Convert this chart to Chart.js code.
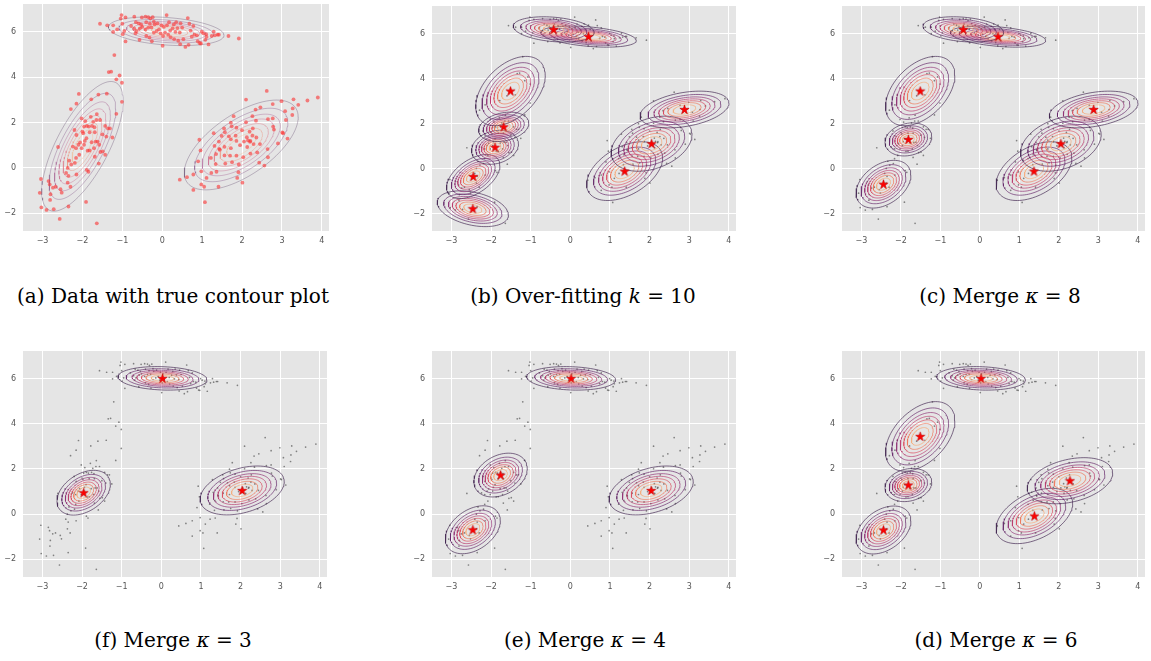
<!DOCTYPE html>
<html>
<head>
<meta charset="utf-8">
<script src="https://cdn.jsdelivr.net/npm/chart.js@4/dist/chart.umd.min.js"></script>
<style>
  html, body { margin: 0; padding: 0; background: #ffffff; }
  #fig { position: relative; width: 1151px; height: 661px; overflow: hidden; }
  canvas { position: absolute; }
  .cap { position: absolute; transform: translateX(-50%); white-space: nowrap;
         font-family: "DejaVu Serif", "Liberation Serif", serif; font-size: 20px; color: #000; line-height: 24px; }
  .cap i { font-family: "DejaVu Serif", serif; }
</style>
</head>
<body>
<div id="fig"></div>
<script>
// ---- axis ticks ----
const xTicks = [-3, -2, -1, 0, 1, 2, 3, 4];
const yTicks = [-2, 0, 2, 4, 6];

// ---- observed samples (x, y) ----
const upperCluster = [
  [-1.56,6.35],[-1.38,6.28],[-1.23,6.28],[-1.04,6.58],[-1.02,6.73],[-0.92,6.63],[-1.00,6.35],[-0.95,6.03],[-0.99,5.89],[-0.92,5.57],
  [-0.70,6.66],[-0.66,6.42],[-0.70,6.13],[-0.64,6.03],[-0.59,6.37],[-0.56,6.15],[-0.67,5.93],[-0.57,5.64],[-0.51,6.63],[-0.42,6.66],
  [-0.40,6.42],[-0.35,6.64],[-0.30,6.58],[-0.24,6.64],[-0.21,6.44],[-0.31,6.35],[-0.35,6.18],[-0.42,6.10],[-0.50,6.21],[-0.40,5.81],
  [-0.32,5.74],[-0.26,5.58],[-0.21,5.96],[-0.14,6.03],[-0.19,6.32],[-0.12,6.37],[-0.08,6.10],[-0.04,5.93],[0.02,5.81],[0.07,5.96],
  [0.11,6.73],[0.12,6.28],[0.04,6.21],[0.01,5.38],[0.15,5.87],[0.20,6.05],[0.21,5.76],[0.26,6.15],[0.29,6.32],[0.33,5.99],
  [0.35,6.42],[0.38,6.16],[0.44,5.96],[0.46,6.37],[0.45,5.45],[0.50,6.18],[0.53,5.67],[0.58,5.33],[0.64,6.60],[0.66,5.42],
  [0.71,6.05],[0.74,5.78],[0.81,5.87],[0.87,5.84],[0.94,5.49],[0.97,5.48],[1.03,5.93],[1.08,5.64],[1.11,5.77],[1.16,5.44],
  [1.24,5.81],[1.29,6.00],[1.32,5.84],[1.39,5.87],[1.42,5.87],[1.66,5.81],[1.92,5.70],
  [-1.23,5.99],[-1.13,6.10],[-0.78,6.25],[-0.53,6.32],[-0.27,6.19],[-0.02,6.28],[0.17,6.42],[0.30,5.67],[0.40,5.60],
  [0.68,6.35],[0.78,6.25],[0.99,6.00],[1.10,5.89],[0.89,5.58]
];
const bridgePoints = [
  [-1.20,4.97],[-1.34,4.22],[-1.28,4.24],[-1.07,4.07],[-1.15,3.90],[-1.01,3.75],[-1.01,2.91],[-1.15,2.38],[-1.39,3.27]
];
const leftCluster = [
  [-1.60,3.23],[-2.09,3.26],[-2.15,2.83],[-1.78,3.02],[-2.29,2.59],[-1.79,2.25],[-1.64,2.37],[-1.56,2.11],[-1.84,1.82],[-1.89,1.85],
  [-1.76,1.85],[-1.70,1.79],[-1.96,1.82],[-1.65,2.11],[-1.43,1.85],[-1.31,1.74],[-1.36,1.74],[-2.20,1.67],[-2.00,1.60],[-2.15,1.45],
  [-1.50,1.48],[-1.40,1.38],[-1.25,1.34],[-1.69,1.57],[-1.82,1.57],[-1.90,1.31],[-1.94,1.19],[-1.77,1.13],[-1.62,1.16],[-2.06,1.12],
  [-2.10,1.02],[-2.16,0.87],[-2.24,0.94],[-2.02,0.87],[-1.96,1.02],[-1.87,0.76],[-1.71,0.87],[-1.55,0.70],[-1.49,0.73],[-1.43,0.58],
  [-1.69,0.49],[-2.16,0.44],[-2.33,0.32],[-2.28,0.15],[-2.19,0.22],[-2.37,0.00],[-2.41,-0.22],[-2.35,-0.35],[-2.15,-0.29],[-1.89,-0.09],
  [-1.85,-0.17],[-1.59,0.19],[-2.61,0.92],[-2.37,-0.65],[-2.30,-0.83],[-2.55,-0.94],[-2.52,-1.09],[-2.67,-0.83],[-2.74,-0.87],[-2.85,-0.58],
  [-2.82,-0.73],[-3.04,-0.49],[-3.07,-1.10],[-2.80,-1.16],[-2.81,-1.41],[-3.03,-1.74],[-2.90,-1.85],[-2.72,-1.82],[-2.35,-1.70],[-1.91,-1.50],
  [-2.57,-2.25],[-1.64,-2.44],[-1.67,1.16],[-1.98,1.53],[-1.82,0.77],[-2.08,0.58],[-1.58,1.02],[-1.73,2.03],[-2.02,2.18],[-1.93,2.06]
];
const rightCluster = [
  [2.62,3.39],[2.10,3.01],[2.99,2.94],[3.29,3.02],[3.64,2.97],[3.90,3.10],[3.27,2.62],[3.41,2.78],[3.08,2.50],[3.26,2.33],
  [2.77,2.81],[2.34,2.57],[2.46,2.67],[2.26,2.28],[2.77,2.18],[3.10,2.11],[2.65,2.15],[2.35,2.08],[1.79,2.28],[1.72,1.99],
  [2.10,2.01],[2.78,1.82],[2.80,1.69],[3.01,1.56],[3.14,1.29],[2.90,1.08],[3.03,1.53],[1.86,1.77],[2.00,1.66],[1.74,1.83],
  [1.55,1.74],[1.57,1.57],[1.49,1.41],[1.67,1.39],[1.84,1.42],[2.19,1.60],[2.27,1.74],[2.26,1.42],[2.36,1.34],[2.12,1.35],
  [2.20,1.15],[2.05,1.16],[1.95,1.00],[2.13,0.92],[2.29,1.05],[1.86,1.19],[1.72,1.26],[1.56,0.93],[1.42,1.16],[1.31,0.97],
  [1.43,0.84],[1.35,0.61],[1.56,0.55],[1.70,0.54],[1.86,0.54],[2.03,0.47],[2.21,0.63],[2.38,0.68],[2.45,1.05],[2.64,0.83],
  [2.65,0.47],[2.43,0.23],[2.56,0.10],[1.92,0.15],[1.75,0.25],[1.58,0.19],[1.34,0.17],[1.23,-0.22],[0.93,1.24],[0.96,0.77],
  [0.90,0.29],[0.98,-0.15],[1.11,-0.44],[0.78,-0.29],[0.62,-0.41],[0.44,-0.52],[0.98,-0.73],[1.05,-0.83],[0.78,-0.97],[1.41,-0.83],
  [1.07,-1.51],[2.01,-0.65],[1.88,-0.44],[1.91,-0.19],[1.36,-0.17],[2.15,1.21],[2.21,1.19],[1.29,1.53],[1.72,0.87],[1.22,0.44],[1.44,0.80]
];

// ---- Gaussian components: means, standard deviations (x, y), correlation ----
const trueMeans = [[0.10,6.02],[-2.00,0.95],[1.98,1.01]];
const trueSd    = [[0.71,0.31],[0.50,1.40],[0.70,0.97]];
const trueRho   = [-0.28, 0.70, 0.62];

const fit10Means = [[-0.42,6.18],[0.46,5.86],[-1.51,3.44],[-1.68,1.85],[-1.90,0.94],[-2.45,-0.36],[-2.46,-1.79],[2.88,2.62],[2.05,1.10],[1.37,-0.12]];
const fit10Sd    = [[0.50,0.275],[0.59,0.23],[0.43,0.755],[0.31,0.32],[0.29,0.37],[0.33,0.48],[0.44,0.39],[0.55,0.40],[0.50,0.60],[0.47,0.64]];
const fit10Rho   = [-0.25,-0.38,0.45,0.25,0.20,0.50,-0.35,0.35,0.33,0.45];

const merge8Means = [[-0.42,6.18],[0.46,5.86],[-1.51,3.44],[-1.81,1.29],[-2.44,-0.70],[2.88,2.62],[2.05,1.10],[1.37,-0.12]];
const merge8Sd    = [[0.50,0.275],[0.59,0.23],[0.43,0.755],[0.29,0.36],[0.34,0.52],[0.55,0.40],[0.50,0.60],[0.47,0.64]];
const merge8Rho   = [-0.25,-0.38,0.45,0.18,0.38,0.35,0.33,0.45];

const merge6Means = [[0.03,6.01],[-1.51,3.44],[-1.81,1.29],[-2.44,-0.70],[2.28,1.48],[1.38,-0.08]];
const merge6Sd    = [[0.55,0.255],[0.43,0.755],[0.29,0.36],[0.34,0.52],[0.53,0.50],[0.475,0.60]];
const merge6Rho   = [-0.13,0.45,0.18,0.38,0.33,0.45];

const merge4Means = [[0.02,6.01],[-1.76,1.73],[-2.46,-0.69],[2.04,1.05]];
const merge4Sd    = [[0.55,0.255],[0.33,0.475],[0.34,0.52],[0.52,0.53]];
const merge4Rho   = [-0.13,0.30,0.38,0.36];

const merge3Means = [[0.03,6.01],[-1.96,0.95],[2.04,1.05]];
const merge3Sd    = [[0.55,0.255],[0.33,0.485],[0.52,0.53]];
const merge3Rho   = [-0.13,0.38,0.36];

// density contour levels expressed as Mahalanobis radii (outer -> inner)
const contourRadii = [2.04, 1.67, 1.40, 1.18, 0.97, 0.76, 0.52];
const contourRGB = [[60,30,75],[95,30,100],[140,40,110],[185,50,105],[220,70,90],[240,115,85],[248,170,120]];

// ---- helpers ----
const toPts = arr => arr.map(p => ({ x: p[0], y: p[1] }));
const allSamples = [].concat(upperCluster, bridgePoints, leftCluster, rightCluster);
const fmt = v => (v < 0 ? '\u2212' + Math.abs(v) : String(v));

function contourRing(m, sd, rho, r) {
  const pts = [];
  const c = Math.sqrt(1 - rho * rho);
  for (let i = 0; i <= 90; i++) {
    const t = 2 * Math.PI * i / 90;
    const u = Math.cos(t), v = Math.sin(t);
    pts.push({ x: m[0] + r * sd[0] * u, y: m[1] + r * sd[1] * (rho * u + c * v) });
  }
  return pts;
}

// red filled five-pointed star used for component means
const starImg = (function () {
  const cv = document.createElement('canvas');
  cv.width = 11; cv.height = 11;
  const g = cv.getContext('2d');
  const R = 4.9, r = R * 0.382;
  g.beginPath();
  for (let i = 0; i < 10; i++) {
    const rad = i % 2 === 0 ? R : r;
    const a = -Math.PI / 2 + i * Math.PI / 5;
    const px = 5.5 + rad * Math.cos(a), py = 5.8 + rad * Math.sin(a);
    if (i === 0) g.moveTo(px, py); else g.lineTo(px, py);
  }
  g.closePath();
  g.fillStyle = '#ff0000';
  g.fill();
  g.lineWidth = 0.6;
  g.strokeStyle = '#c00000';
  g.stroke();
  return cv;
})();

const panelBg = {
  id: 'panelBg',
  beforeDraw(chart) {
    const { ctx, chartArea: a } = chart;
    ctx.save();
    ctx.fillStyle = '#E5E5E5';
    ctx.fillRect(a.left, a.top, a.right - a.left, a.bottom - a.top);
    ctx.restore();
  }
};

const YW = 22, XH = 19, PT = 1, PR = 1;

function makePanel(box, means, sds, rhos, isTrue) {
  const [L, T, W, H] = box;
  const cv = document.createElement('canvas');
  cv.width = YW + W + PR; cv.height = PT + H + XH;
  cv.style.left = (L - YW) + 'px';
  cv.style.top = (T - PT) + 'px';
  cv.style.width = cv.width + 'px';
  cv.style.height = cv.height + 'px';
  document.getElementById('fig').appendChild(cv);

  const datasets = [];
  const ringAlpha = isTrue ? 0.28 : 0.65;
  means.forEach((m, k) => {
    contourRadii.forEach((r, j) => {
      const c = contourRGB[j];
      datasets.push({
        data: contourRing(m, sds[k], rhos[k], r),
        showLine: true, pointRadius: 0, borderWidth: 1,
        borderColor: `rgba(${c[0]},${c[1]},${c[2]},${ringAlpha})`,
        fill: false, tension: 0, order: isTrue ? 3 : 2
      });
    });
  });
  datasets.push({
    data: toPts(allSamples),
    pointRadius: isTrue ? 1.9 : 0.85,
    pointBorderWidth: 0,
    pointBackgroundColor: isTrue ? 'rgba(250,55,55,0.62)' : 'rgba(60,60,60,0.6)',
    showLine: false, order: isTrue ? 1 : 2.5
  });
  if (!isTrue) {
    datasets.push({
      data: toPts(means),
      pointStyle: starImg, pointRadius: 5, showLine: false, order: 0
    });
  }

  const tickFont = { family: 'DejaVu Sans', size: 8 };
  new Chart(cv, {
    type: 'scatter',
    data: { datasets },
    options: {
      responsive: false, animation: false, events: [],
      layout: { padding: { top: PT, right: PR, left: 0, bottom: 0 } },
      plugins: { legend: { display: false }, tooltip: { enabled: false } },
      scales: {
        x: {
          type: 'linear', min: -3.49, max: 4.18,
          afterBuildTicks: s => { s.ticks = xTicks.map(v => ({ value: v })); },
          afterFit: s => { s.height = XH; s.paddingLeft = 0; s.paddingRight = 0; },
          ticks: { callback: fmt, font: tickFont, color: '#555555', padding: 5, maxRotation: 0, autoSkip: false },
          grid: { color: '#ffffff', lineWidth: 1, drawTicks: false },
          border: { display: false }
        },
        y: {
          type: 'linear', min: -2.78, max: 7.22,
          afterBuildTicks: s => { s.ticks = yTicks.map(v => ({ value: v })); },
          afterFit: s => { s.width = YW; s.paddingTop = 0; s.paddingBottom = 0; },
          ticks: { callback: fmt, font: tickFont, color: '#555555', padding: 7, autoSkip: false },
          grid: { color: '#ffffff', lineWidth: 1, drawTicks: false },
          border: { display: false }
        }
      }
    },
    plugins: [panelBg]
  });
}

function caption(html, cx, top) {
  const d = document.createElement('div');
  d.className = 'cap';
  d.style.left = cx + 'px';
  d.style.top = top + 'px';
  d.innerHTML = html;
  document.getElementById('fig').appendChild(d);
}

makePanel([23, 1, 309, 230], trueMeans, trueSd, trueRho, true);
makePanel([432, 1, 309, 230], fit10Means, fit10Sd, fit10Rho, false);
makePanel([842, 1, 308, 230], merge8Means, merge8Sd, merge8Rho, false);
makePanel([23, 346, 309, 231], merge3Means, merge3Sd, merge3Rho, false);
makePanel([432, 346, 309, 231], merge4Means, merge4Sd, merge4Rho, false);
makePanel([842, 346, 308, 231], merge6Means, merge6Sd, merge6Rho, false);

caption('(a) Data with true contour plot', 173, 284);
caption('(b) Over-fitting <i>k</i> = 10', 583, 284);
caption('(c) Merge <i>κ</i> = 8', 1000, 284);
caption('(f) Merge <i>κ</i> = 3', 173, 628);
caption('(e) Merge <i>κ</i> = 4', 585, 628);
caption('(d) Merge <i>κ</i> = 6', 996, 628);
</script>
</body>
</html>
